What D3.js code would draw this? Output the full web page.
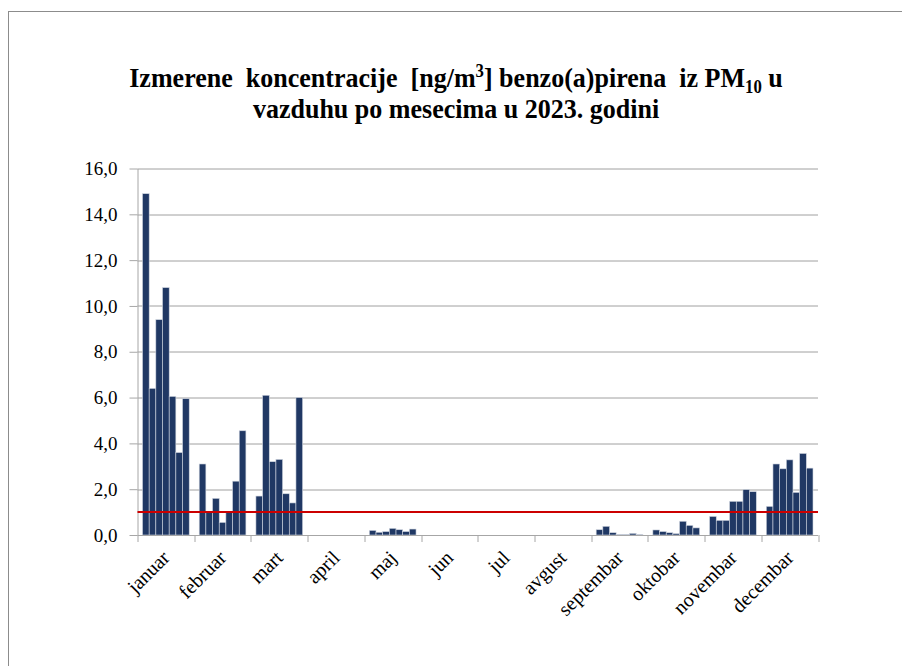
<!DOCTYPE html>
<html lang="sr">
<head>
  <meta charset="UTF-8">
  <title>Benzo(a)piren u PM10 po mesecima 2023</title>
  <script src="https://d3js.org/d3.v7.min.js"></script>
  <style>
    body { margin: 0; background: #fff; }
    svg text { font-family: 'Liberation Serif', 'Times New Roman', serif; fill: #000; }
    .grid line { stroke: #a0a0a0; stroke-width: 1; }
    .axis path, .axis line { stroke: #a6a6a6; stroke-width: 1; }
  </style>
</head>
<body>
  <svg width="902" height="666"></svg>
  <script>
    // chart data
    const months = ["januar", "februar", "mart", "april", "maj", "jun", "jul",
      "avgust", "septembar", "oktobar", "novembar", "decembar"];

    // seven measurements per month, null = no sample
    const januar    = [14.9, 6.4, 9.4, 10.8, 6.05, 3.6, 5.95];
    const februar   = [3.1, 1.0, 1.6, 0.55, 1.0, 2.35, 4.55];
    const mart      = [1.7, 6.1, 3.2, 3.3, 1.8, 1.4, 6.0];
    const april     = [null, null, null, null, null, null, null];
    const maj       = [0.2, 0.12, 0.15, 0.29, 0.23, 0.15, 0.26];
    const jun       = [null, null, null, null, null, null, null];
    const jul       = [null, null, null, null, null, null, null];
    const avgust    = [null, null, null, null, null, null, null];
    const septembar = [0.23, 0.38, 0.1, 0.03, 0.03, 0.07, 0.03];
    const oktobar   = [0.22, 0.15, 0.1, 0.06, 0.6, 0.42, 0.31];
    const novembar  = [0.81, 0.64, 0.64, 1.47, 1.47, 1.98, 1.89];
    const decembar  = [1.25, 3.1, 2.89, 3.28, 1.86, 3.56, 2.92];

    const yTicks = [0, 2, 4, 6, 8, 10, 12, 14, 16];
    const limitValue = 1.0; // granicna vrednost

    const monthValues = [januar, februar, mart, april, maj, jun, jul,
      avgust, septembar, oktobar, novembar, decembar];
    const slots = d3.range(januar.length);

    const svg = d3.select("svg");
    const margin = { top: 168.5, right: 84, bottom: 131, left: 137.5 };
    const width = 902 - margin.left - margin.right;
    const height = 666 - margin.top - margin.bottom;

    svg.append("rect")
      .attr("x", 0).attr("y", 0).attr("width", 902).attr("height", 666)
      .attr("fill", "#fff");

    // outer frame (only top and left edges are inside the picture)
    svg.append("rect")
      .attr("x", 8.5).attr("y", 11.5).attr("width", 1000).attr("height", 1000)
      .attr("fill", "none").attr("stroke", "#8c8c8c").attr("stroke-width", 1);

    // title, a little condensed like the original
    const title = svg.append("text")
      .attr("transform", "translate(456,0) scale(0.93,1)")
      .attr("text-anchor", "middle")
      .attr("font-weight", "bold")
      .attr("font-size", 28)
      .style("white-space", "pre");
    const t1 = title.append("tspan").attr("x", 0).attr("y", 87);
    t1.append("tspan").text("Izmerene  koncentracije  [ng/m");
    t1.append("tspan").attr("font-size", 18).attr("dy", -10).text("3");
    t1.append("tspan").attr("dy", 10).text("] benzo(a)pirena  iz PM");
    t1.append("tspan").attr("font-size", 18).attr("dy", 6).text("10");
    t1.append("tspan").attr("dy", -6).text(" u");
    title.append("tspan").attr("x", 0).attr("y", 118)
      .text("vazduhu po mesecima u 2023. godini");

    const g = svg.append("g").attr("transform", `translate(${margin.left},${margin.top})`);

    const x0 = d3.scaleBand()
      .domain(months)
      .range([0, width])
      .paddingInner(1.5 / 8.5)
      .paddingOuter(0.75 / 8.5);

    const x1 = d3.scaleBand()
      .domain(slots)
      .range([0, x0.bandwidth()]);

    const y = d3.scaleLinear().domain([0, 16]).range([height, 0]);

    // gridlines
    g.append("g").attr("class", "grid")
      .selectAll("line")
      .data(yTicks.filter(d => d > 0))
      .join("line")
      .attr("x1", 0).attr("x2", width)
      .attr("y1", d => Math.round(y(d)) + 0.5)
      .attr("y2", d => Math.round(y(d)) + 0.5);

    // bars
    const groups = g.append("g")
      .selectAll("g")
      .data(months.map((m, i) => ({ month: m, values: monthValues[i] })))
      .join("g")
      .attr("transform", d => `translate(${x0(d.month)},0)`);

    groups.selectAll("rect")
      .data(d => d.values.map((v, i) => ({ slot: i, value: v })).filter(d => d.value != null))
      .join("rect")
      .attr("x", d => x1(d.slot))
      .attr("width", x1.bandwidth())
      .attr("y", d => y(d.value))
      .attr("height", d => y(0) - y(d.value))
      .attr("fill", "#203864")
      .attr("stroke", "#d0d6e0")
      .attr("stroke-width", 0.6);

    // y axis
    const yAxis = g.append("g").attr("class", "axis")
      .call(d3.axisLeft(y)
        .tickValues(yTicks)
        .tickSize(8)
        .tickPadding(12)
        .tickSizeOuter(0)
        .tickFormat(d => d3.format(".1f")(d).replace(".", ",")));
    yAxis.selectAll("text")
      .attr("font-size", 19)
      .style("font-family", "'Liberation Serif', serif");

    // x axis: ticks at month boundaries
    const xAxisG = g.append("g").attr("class", "axis")
      .attr("transform", `translate(0,${height})`);
    xAxisG.append("line")
      .attr("x1", 0).attr("x2", width).attr("y1", 0.5).attr("y2", 0.5);
    xAxisG.selectAll(".tick")
      .data(d3.range(months.length + 1))
      .join("line")
      .attr("class", "tick")
      .attr("x1", i => Math.round(i * x0.step()) + 0.5)
      .attr("x2", i => Math.round(i * x0.step()) + 0.5)
      .attr("y1", 0).attr("y2", 7);
    xAxisG.selectAll(".label")
      .data(months)
      .join("text")
      .attr("class", "label")
      .attr("font-size", 20)
      .attr("text-anchor", "end")
      .attr("dy", "0.35em")
      .attr("transform", d => `translate(${x0(d) + x0.bandwidth() / 2},19) rotate(-45)`)
      .text(d => d);

    // limit value line
    g.append("line")
      .attr("x1", 0).attr("x2", width)
      .attr("y1", y(limitValue)).attr("y2", y(limitValue))
      .attr("stroke", "#cc0000")
      .attr("stroke-width", 2);
  </script>
</body>
</html>
